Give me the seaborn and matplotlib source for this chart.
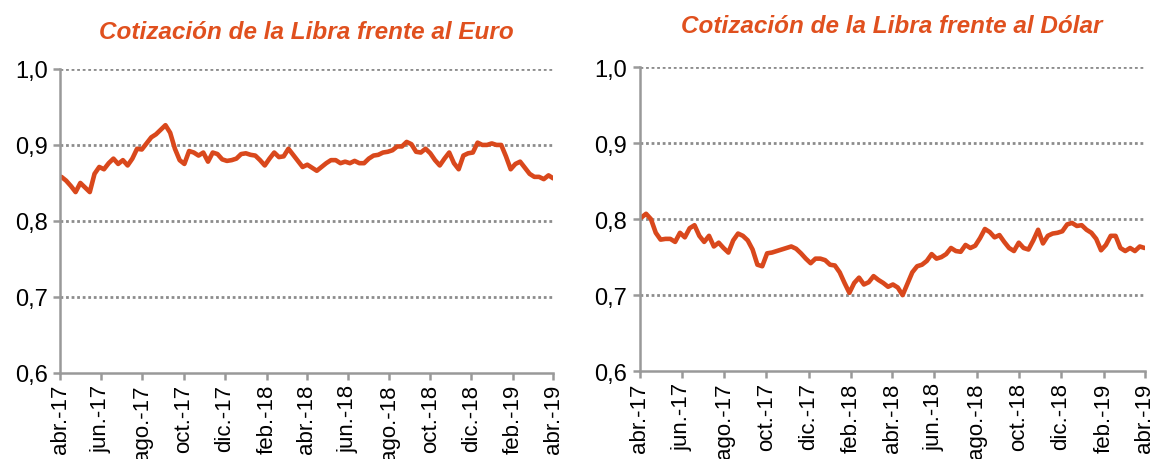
import pandas as pd
import matplotlib.pyplot as plt
import seaborn as sns

# weekly quotes (abr-17 .. abr-19)
fechas = pd.date_range("2017-04-03", periods=105, freq="7D")

gbp_eur = [0.858, 0.853, 0.846, 0.838, 0.850, 0.844, 0.838, 0.862, 0.871, 0.868,
           0.876, 0.882, 0.875, 0.880, 0.873, 0.882, 0.895, 0.894, 0.902, 0.910,
           0.914, 0.920, 0.926, 0.916, 0.895, 0.880, 0.875, 0.892, 0.890, 0.886,
           0.890, 0.878, 0.890, 0.888, 0.881, 0.879, 0.880, 0.882, 0.888, 0.889,
           0.887, 0.886, 0.880, 0.873, 0.882, 0.890, 0.884, 0.885, 0.895, 0.887,
           0.879, 0.871, 0.874, 0.870, 0.866, 0.871, 0.876, 0.880, 0.880, 0.876,
           0.878, 0.876, 0.879, 0.876, 0.876, 0.882, 0.886, 0.887, 0.890, 0.891,
           0.893, 0.898, 0.898, 0.904, 0.901, 0.891, 0.890, 0.895, 0.889, 0.880,
           0.873, 0.882, 0.890, 0.876, 0.868, 0.886, 0.889, 0.890, 0.903, 0.900,
           0.900, 0.902, 0.900, 0.900, 0.885, 0.868, 0.875, 0.878, 0.870, 0.862,
           0.858, 0.858, 0.855, 0.860, 0.856]

gbp_usd = [0.802, 0.807, 0.800, 0.782, 0.773, 0.774, 0.774, 0.770, 0.782, 0.776,
           0.788, 0.792, 0.778, 0.770, 0.778, 0.764, 0.769, 0.762, 0.756, 0.772,
           0.781, 0.778, 0.772, 0.760, 0.740, 0.738, 0.755, 0.756, 0.758, 0.760,
           0.762, 0.764, 0.761, 0.755, 0.748, 0.742, 0.748, 0.748, 0.746, 0.740,
           0.739, 0.730, 0.716, 0.703, 0.716, 0.723, 0.714, 0.717, 0.725, 0.720,
           0.716, 0.711, 0.714, 0.710, 0.700, 0.715, 0.730, 0.738, 0.740, 0.745,
           0.754, 0.748, 0.750, 0.754, 0.762, 0.758, 0.757, 0.766, 0.762, 0.765,
           0.775, 0.787, 0.783, 0.776, 0.779, 0.770, 0.762, 0.758, 0.769, 0.762,
           0.760, 0.772, 0.786, 0.768, 0.778, 0.781, 0.782, 0.784, 0.793, 0.795,
           0.791, 0.792, 0.786, 0.782, 0.774, 0.759, 0.766, 0.778, 0.778, 0.762,
           0.758, 0.762, 0.758, 0.764, 0.762]

titulos = ["Cotización de la Libra frente al Euro", "Cotización de la Libra frente al Dólar"]
ticks_x = pd.date_range("2017-04-01", "2019-04-01", freq="2MS")
etiquetas_x = ["abr.-17", "jun.-17", "ago.-17", "oct.-17", "dic.-17", "feb.-18", "abr.-18",
               "jun.-18", "ago.-18", "oct.-18", "dic.-18", "feb.-19", "abr.-19"]
ticks_y = [0.6, 0.7, 0.8, 0.9, 1.0]
etiquetas_y = ["0,6", "0,7", "0,8", "0,9", "1,0"]

sns.set_style("white")
plt.rcParams['font.family'] = ['Liberation Sans', 'DejaVu Sans']

linea = "#D9481C"
naranja = "#E0501E"
gris = "#8C8C8C"

fig = plt.figure(figsize=(11.55, 4.6), dpi=100)
ax1 = fig.add_axes([0.052, 0.187, 0.427, 0.661])
ax2 = fig.add_axes([0.554, 0.191, 0.437, 0.661])

df = pd.DataFrame({"fecha": fechas, "eur": gbp_eur, "usd": gbp_usd})

for ax, col, titulo, pad in [(ax1, "eur", titulos[0], 22), (ax2, "usd", titulos[1], 25)]:
    sns.lineplot(data=df, x="fecha", y=col, ax=ax, color=linea, linewidth=3.3)
    ax.set_xlim(ticks_x[0], ticks_x[-1])
    ax.set_ylim(0.6, 1.0)
    ax.set_yticks(ticks_y)
    ax.set_yticklabels(etiquetas_y, fontsize=17)
    ax.set_xticks(ticks_x)
    ax.set_xticklabels(etiquetas_x, rotation=90, fontsize=16)
    ax.set_xlabel("")
    ax.set_ylabel("")
    for y in ticks_y[1:]:
        ax.axhline(y, color=gris, linestyle=(0, (1, 1)), linewidth=2, zorder=0)
    for s in ["top", "right"]:
        ax.spines[s].set_visible(False)
    for s in ["left", "bottom"]:
        ax.spines[s].set_color("#999999")
        ax.spines[s].set_linewidth(1.8)
    ax.tick_params(axis="both", direction="out", length=5, width=1.8, color="#999999",
                   labelcolor="black", left=True, bottom=True)
    ax.tick_params(axis="x", pad=3)
    ax.tick_params(axis="y", pad=4)
    ax.set_title(titulo, color=naranja, fontsize=17.5, fontweight="bold",
                 fontstyle="italic", pad=pad)

plt.savefig("out.png", dpi=100)
